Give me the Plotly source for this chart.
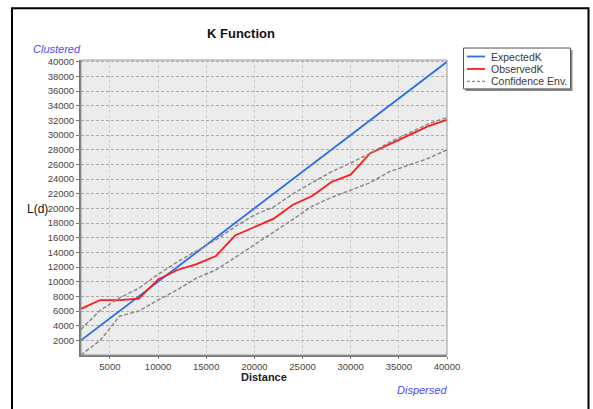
import plotly.graph_objects as go

distance = [2000, 4000, 6000, 8000, 10000, 12000, 14000, 16000, 18000, 20000,
            22000, 24000, 26000, 28000, 30000, 32000, 34000, 36000, 38000, 40000]
expected_k = [2000, 4000, 6000, 8000, 10000, 12000, 14000, 16000, 18000, 20000,
              22000, 24000, 26000, 28000, 30000, 32000, 34000, 36000, 38000, 40000]
observed_k = [6300, 7500, 7500, 7700, 10300, 11600, 12400, 13500, 16300, 17500,
              18600, 20500, 21700, 23600, 24600, 27500, 28700, 30000, 31200, 32100]
env_upper = [3500, 6100, 7800, 9100, 11000, 12700, 14200, 15700, 17500, 19100,
             20200, 22000, 23500, 25000, 26200, 27500, 29000, 30200, 31500, 32400]
env_lower = [0, 2000, 5300, 6000, 7500, 8900, 10500, 11600, 13300, 15000,
             16700, 18500, 20300, 21500, 22500, 23500, 25000, 25900, 26800, 28000]

x_ticks = [5000, 10000, 15000, 20000, 25000, 30000, 35000, 40000]
y_ticks = list(range(2000, 40001, 2000))

series_names = ["ExpectedK", "ObservedK", "Confidence Env."]
series_colors = ["#2a6fe4", "#ff1a1a", "#8a8a8a"]
series_dash = ["solid", "solid", "dash"]

FONT = "Liberation Sans"

fig = go.Figure()
fig.add_trace(go.Scatter(x=distance, y=expected_k, mode="lines", name=series_names[0],
                         line=dict(color=series_colors[0], width=1.8)))
fig.add_trace(go.Scatter(x=distance, y=observed_k, mode="lines", name=series_names[1],
                         line=dict(color=series_colors[1], width=1.8)))
fig.add_trace(go.Scatter(x=distance, y=env_upper, mode="lines", name=series_names[2],
                         line=dict(color=series_colors[2], width=1.5, dash="4px,2px")))
fig.add_trace(go.Scatter(x=distance, y=env_lower, mode="lines", name=series_names[2],
                         line=dict(color=series_colors[2], width=1.5, dash="4px,2px")))

# plot area in pixels: x 81..447, y 59.5..355.5
def px(xp):
    return (xp - 81) / 366.0

def py(yp):
    return (355.5 - yp) / 296.0

annotations = [
    dict(text="<b>K Function</b>", x=px(240.5), y=py(33), xanchor="center"),
    dict(text="<i>Clustered</i>", x=px(57), y=py(48.5), xanchor="center"),
    dict(text="<i>Dispersed</i>", x=px(422), y=py(391), xanchor="center"),
    dict(text="L(d)", x=px(50), y=py(209), xanchor="right"),
    dict(text="<b>Distance</b>", x=px(263.5), y=py(378), xanchor="center"),
]
ann_fonts = [
    dict(family=FONT, size=13, color="#111111"),
    dict(family=FONT, size=11, color="#4a4aff"),
    dict(family=FONT, size=11, color="#4a4aff"),
    dict(family=FONT, size=12, color="#111111"),
    dict(family=FONT, size=11, color="#222222"),
]
for a, f in zip(annotations, ann_fonts):
    a.update(xref="paper", yref="paper", showarrow=False, font=f, yanchor="middle")

shapes = [
    # outer frame
    dict(type="rect", xref="paper", yref="paper",
         x0=px(12), x1=px(588.5), y0=py(440), y1=py(7.5),
         line=dict(color="black", width=2), layer="above"),
    # plot border
    dict(type="rect", xref="paper", yref="paper", x0=0, x1=1, y0=0, y1=1,
         line=dict(color="#999999", width=1), layer="above"),
    # legend shadow
    dict(type="rect", xref="paper", yref="paper",
         x0=px(465.5), x1=px(572.5), y0=py(90.5), y1=py(49.5),
         fillcolor="#8c8c8c", line=dict(width=0), layer="above"),
    # legend box
    dict(type="rect", xref="paper", yref="paper",
         x0=px(463.5), x1=px(570.5), y0=py(88.5), y1=py(47.5),
         fillcolor="white", line=dict(color="#555555", width=1), layer="above"),
]

legend_rows = [56, 68.5, 81]
for name, col, dsh, yy in zip(series_names, series_colors, series_dash, legend_rows):
    shapes.append(dict(type="line", xref="paper", yref="paper",
                       x0=px(467), x1=px(485), y0=py(yy), y1=py(yy),
                       line=dict(color=col, width=1.8 if dsh == "solid" else 1.3,
                                 dash="solid" if dsh == "solid" else "3px,2px"),
                       layer="above"))
    annotations.append(dict(text=name, x=px(488.5), y=py(yy), xref="paper", yref="paper",
                            showarrow=False, xanchor="left", yanchor="middle",
                            font=dict(family=FONT, size=10.5, color="#3a3a3a")))

fig.update_layout(
    width=593, height=409,
    margin=dict(l=81, r=146, t=59.5, b=53.5, autoexpand=False),
    paper_bgcolor="white",
    plot_bgcolor="#ececec",
    font=dict(family=FONT, size=10, color="#333333"),
    showlegend=False,
    xaxis=dict(range=[2000, 40000], tickvals=x_ticks, ticktext=[str(v) for v in x_ticks],
               showgrid=True, gridcolor="#cfcfcf", griddash="3px,2px", gridwidth=1,
               zeroline=False, showline=True, linecolor="#777777", linewidth=2,
               ticks="outside", ticklen=2, tickcolor="#777777", automargin=False,
               tickfont=dict(family=FONT, size=9.5, color="#444444")),
    yaxis=dict(range=[0, 40250], tickvals=y_ticks, ticktext=[str(v) for v in y_ticks],
               showgrid=True, gridcolor="#aaaaaa", griddash="3px,2px", gridwidth=1,
               zeroline=False, showline=True, linecolor="#777777", linewidth=2,
               ticks="outside", ticklen=3, tickcolor="#777777", automargin=False,
               tickfont=dict(family=FONT, size=9.5, color="#444444")),
    annotations=annotations,
    shapes=shapes,
)

fig.write_html("out.html", config={"displayModeBar": False},
               post_script="document.body.style.margin='0';document.body.style.overflow='hidden';")
